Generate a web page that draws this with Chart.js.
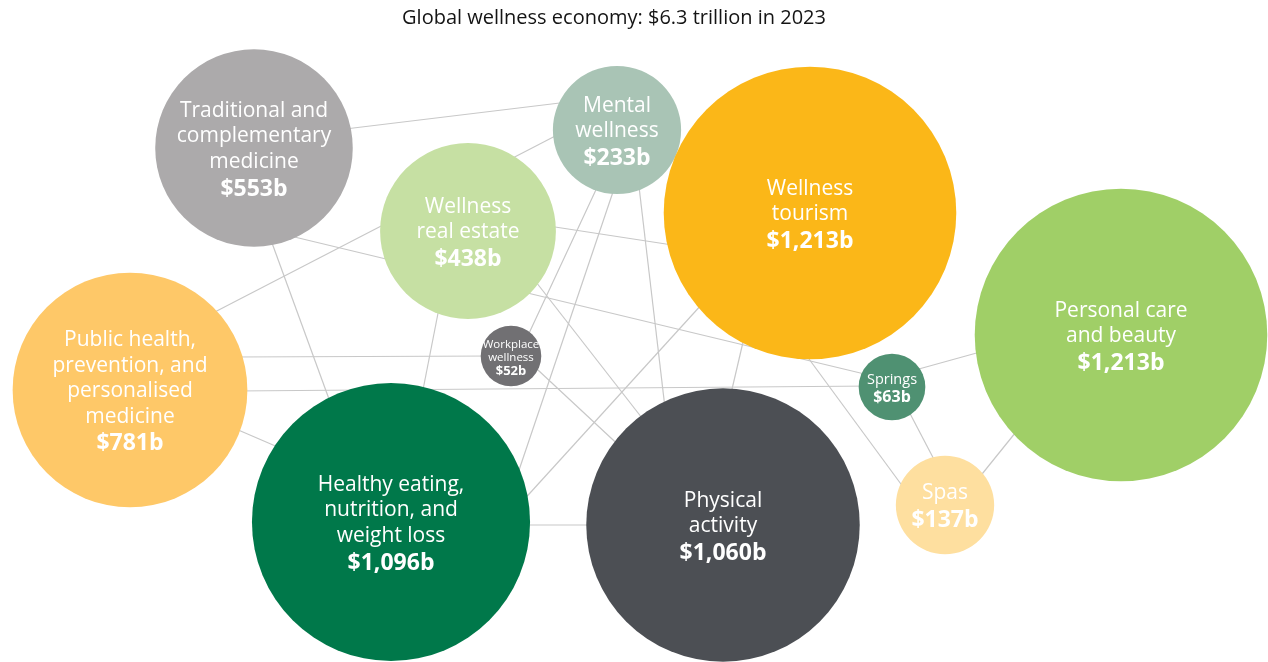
<!DOCTYPE html>
<html>
<head>
<meta charset="utf-8">
<script src="https://cdn.jsdelivr.net/npm/chart.js@4.4.1/dist/chart.umd.min.js"></script>
<style>
  html, body { margin: 0; padding: 0; background: #fff; }
  #wrap { width: 1268px; height: 662px; }
</style>
</head>
<body>
<div id="wrap"><canvas id="wellnessChart" width="1268" height="662"></canvas></div>
<script>
const chartTitle = 'Global wellness economy: $6.3 trillion in 2023';

const categories = [
    'Traditional and complementary medicine',
    'Mental wellness',
    'Wellness real estate',
    'Wellness tourism',
    'Personal care and beauty',
    'Public health, prevention, and personalised medicine',
    'Workplace wellness',
    'Springs',
    'Spas',
    'Healthy eating, nutrition, and weight loss',
    'Physical activity'
];

// market size, US$ billions
const values = [553, 233, 438, 1213, 1213, 781, 52, 63, 137, 1096, 1060];

// how each name is broken inside its bubble
const labelLines = [
    ['Traditional and', 'complementary', 'medicine'],
    ['Mental', 'wellness'],
    ['Wellness', 'real estate'],
    ['Wellness', 'tourism'],
    ['Personal care', 'and beauty'],
    ['Public health,', 'prevention, and', 'personalised', 'medicine'],
    ['Workplace', 'wellness'],
    ['Springs'],
    ['Spas'],
    ['Healthy eating,', 'nutrition, and', 'weight loss'],
    ['Physical', 'activity']
];

// bubble layout (x right, y down)
const posX = [254, 617, 468, 810, 1121, 130, 511, 892, 945, 391, 723];
const posY = [148, 130, 231, 213, 335, 390, 356, 387, 505, 522, 525];

const colors = ['#acaaab', '#a9c4b5', '#c6e0a3', '#fbb718', '#a0cf67', '#fec868',
                '#717073', '#4f9172', '#fedf9f', '#00784a', '#4c4f54'];

// connector lines behind the bubbles: [x1, y1, x2, y2]
const links = [
    [337, 130, 568, 102],
    [209, 315, 563, 132],
    [282, 234, 877, 377],
    [268, 232, 333, 410],
    [232, 357, 497, 356],
    [235, 391, 875, 386],
    [229, 426, 287, 451],
    [441, 298, 421, 400],
    [601, 179, 524, 344],
    [616, 183, 515, 482],
    [638, 178, 665, 408],
    [542, 225, 705, 250],
    [529, 273, 649, 427],
    [524, 357, 626, 452],
    [723, 281, 520, 504],
    [751, 308, 729, 402],
    [784, 325, 909, 495],
    [908, 372, 991, 349],
    [905, 404, 939, 469],
    [1024, 422, 974, 484],
    [517, 525, 602, 525]
];

const FONT = '"Open Sans", "Noto Sans", sans-serif';

// bubble area proportional to value
const radiusFor = v => 4.2 * Math.sqrt(v);
const money = v => '$' + v.toLocaleString('en-US') + 'b';

const lineSets = links.map(l => ({
    type: 'line',
    data: [{ x: l[0], y: l[1] }, { x: l[2], y: l[3] }],
    borderColor: '#c8c8c8',
    borderWidth: 1.2,
    pointRadius: 0,
    fill: false,
    clip: false,
    order: 2
}));

const bubbleSet = {
    type: 'bubble',
    data: values.map((v, i) => ({ x: posX[i], y: posY[i], r: radiusFor(v) })),
    backgroundColor: colors,
    borderWidth: 0,
    hoverBorderWidth: 0,
    clip: false,
    order: 1
};

const bubbleLabels = {
    id: 'bubbleLabels',
    afterDatasetsDraw(chart) {
        const meta = chart.getDatasetMeta(chart.data.datasets.indexOf(bubbleSet));
        const ctx = chart.ctx;
        ctx.save();
        ctx.fillStyle = '#ffffff';
        ctx.textAlign = 'center';
        ctx.textBaseline = 'middle';
        meta.data.forEach((el, i) => {
            const r = radiusFor(values[i]);
            let size = 21, bold = 23, lh = 25.5, gap = 27;
            if (r < 32) { size = 11.5; bold = 13; lh = 13; gap = 13.5; }
            else if (r < 40) { size = 14.5; bold = 16; lh = 17; gap = 17.5; }
            const lines = labelLines[i];
            const span = (lines.length - 1) * lh + gap;
            let y = el.y + 2 - span / 2;
            ctx.font = size + 'px ' + FONT;
            lines.forEach((t, k) => ctx.fillText(t, el.x, y + k * lh));
            ctx.font = 'bold ' + bold + 'px ' + FONT;
            ctx.fillText(money(values[i]), el.x, y + (lines.length - 1) * lh + gap);
        });
        ctx.restore();
    }
};

const titleText = {
    id: 'titleText',
    afterDraw(chart) {
        const ctx = chart.ctx;
        ctx.save();
        ctx.fillStyle = '#141414';
        ctx.font = '20px ' + FONT;
        ctx.textAlign = 'center';
        ctx.textBaseline = 'middle';
        ctx.fillText(chartTitle, 614, 18);
        ctx.restore();
    }
};

const ctx = document.getElementById('wellnessChart').getContext('2d');

const wellnessChart = new Chart(ctx, {
    data: {
        datasets: [bubbleSet, ...lineSets]
    },
    options: {
        responsive: false,
        animation: false,
        layout: { padding: 0, autoPadding: false },
        events: [],
        scales: {
            x: { type: 'linear', min: 0, max: 1268, display: false },
            y: { type: 'linear', min: 0, max: 662, reverse: true, display: false }
        },
        plugins: {
            legend: { display: false },
            tooltip: { enabled: false },
            title: { display: false }
        }
    },
    plugins: [bubbleLabels, titleText]
});
</script>
</body>
</html>
